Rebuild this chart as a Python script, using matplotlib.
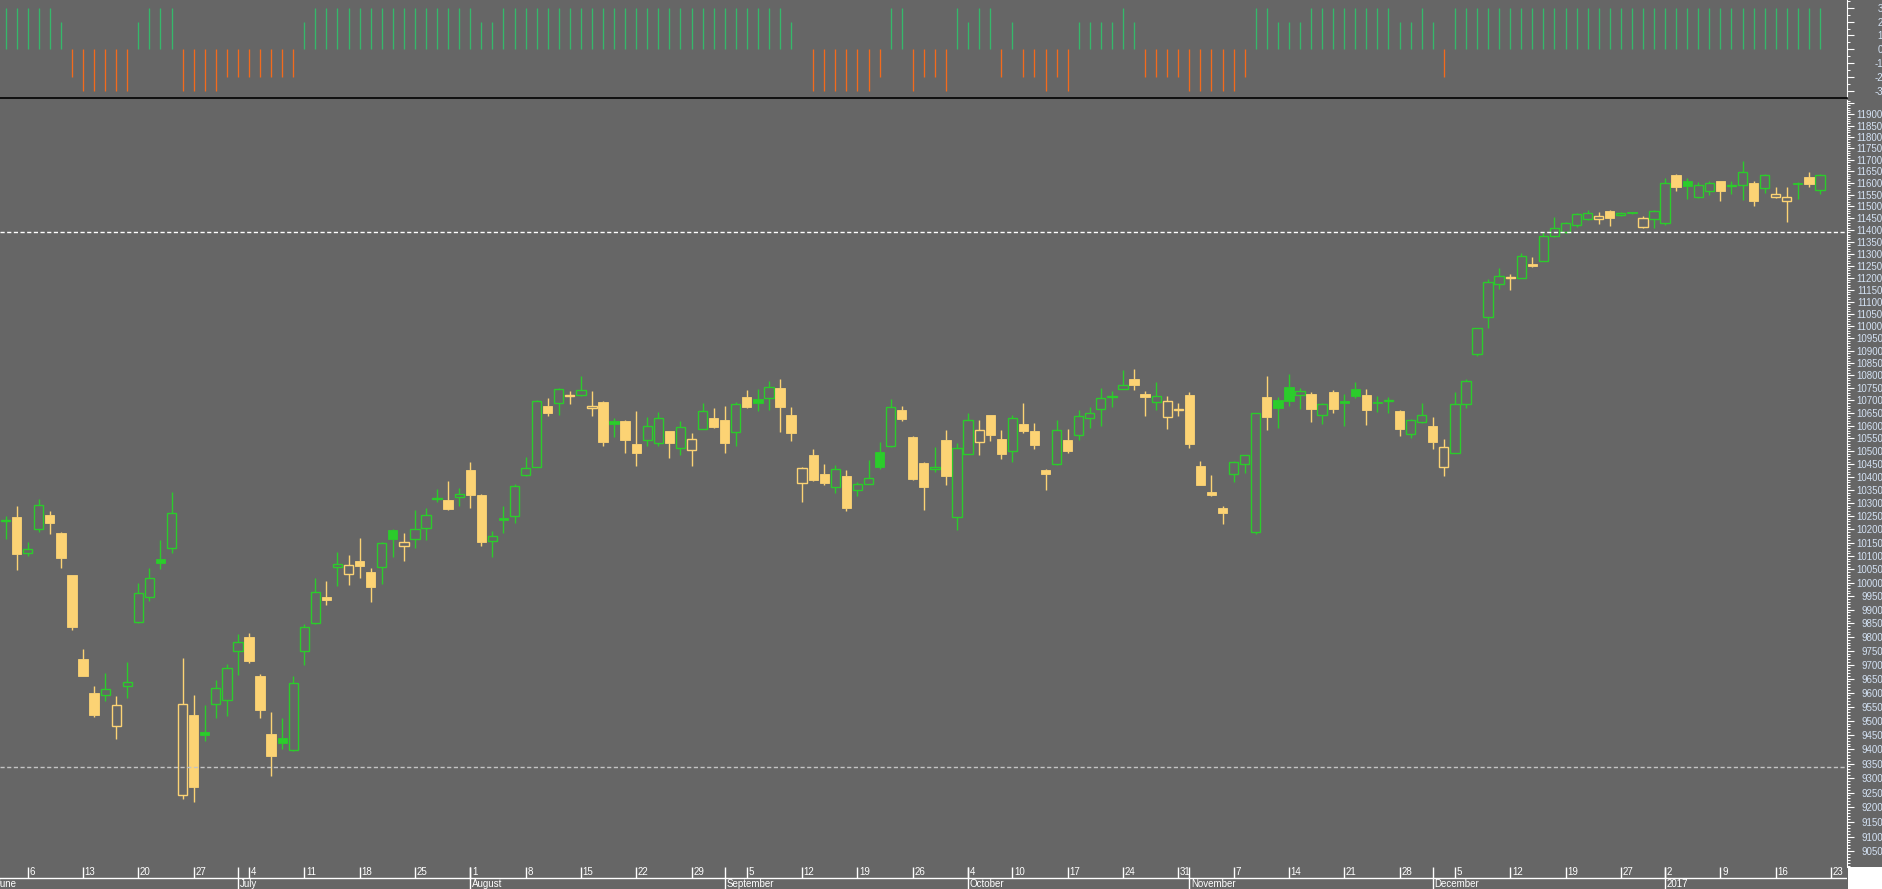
# DAX daily candles, June 2016 - January 2017, with a trend signal panel on top
import numpy as np
import pandas as pd
import matplotlib
matplotlib.use("Agg")
import matplotlib.pyplot as plt
from matplotlib.lines import Line2D
from matplotlib.patches import Rectangle
from matplotlib.ticker import FixedLocator, FixedFormatter, NullFormatter

plt.rcParams["font.family"] = ["Liberation Sans", "DejaVu Sans"]

# Trading calendar (exchange holidays removed). June 1 sits just left of the chart
holidays = ["2016-10-03", "2016-12-26"]
month_names = ["June", "July", "August", "September", "October", "November", "December", "2017"]

# OHLC, one value per trading day from 2016-06-02 to 2017-01-20
opens = [10230, 10245, 10109, 10201, 10253, 10187, 10027, 9720, 9598, 9593, 9483, 9625,
         9856, 9948, 10087, 10128, 9243, 9519, 9459, 9561, 9572, 9749, 9801, 9660,
         9453, 9439, 9397, 9748, 9852, 9945, 10059, 10031, 10081, 10041, 10059, 10199,
         10137, 10163, 10205, 10317, 10311, 10323, 10428, 10331, 10157, 10243, 10251, 10407,
         10439, 10679, 10690, 10716, 10721, 10670, 10694, 10618, 10618, 10529, 10545, 10532,
         10579, 10513, 10504, 10588, 10631, 10622, 10576, 10715, 10707, 10709, 10751, 10641,
         10378, 10486, 10411, 10360, 10403, 10349, 10375, 10496, 10519, 10663, 10557, 10455,
         10430, 10545, 10246, 10490, 10538, 10641, 10549, 10500, 10606, 10579, 10426, 10450,
         10545, 10562, 10631, 10667, 10714, 10746, 10787, 10727, 10694, 10635, 10661, 10723,
         10444, 10341, 10281, 10410, 10451, 10190, 10715, 10703, 10755, 10721, 10727, 10641,
         10735, 10698, 10746, 10721, 10694, 10699, 10659, 10566, 10616, 10599, 10439, 10495,
         10686, 10887, 11036, 11174, 11197, 11199, 11257, 11269, 11374, 11389, 11421, 11445,
         11445, 11480, 11462, 11474, 11414, 11445, 11430, 11636, 11608, 11539, 11566, 11608,
         11587, 11591, 11600, 11578, 11539, 11522, 11602, 11626, 11569]
highs = [10250, 10289, 10154, 10314, 10271, 10190, 10030, 9757, 9623, 9670, 9587, 9710,
         9997, 10053, 10158, 10343, 9724, 9593, 9557, 9645, 9701, 9812, 9816, 9667,
         9532, 9511, 9660, 9847, 10019, 10005, 10113, 10103, 10168, 10053, 10154, 10203,
         10187, 10272, 10282, 10353, 10384, 10357, 10458, 10333, 10194, 10289, 10375, 10477,
         10703, 10711, 10748, 10739, 10798, 10739, 10699, 10630, 10622, 10659, 10634, 10655,
         10581, 10618, 10571, 10691, 10671, 10679, 10694, 10743, 10747, 10779, 10785, 10674,
         10437, 10510, 10451, 10447, 10428, 10382, 10466, 10536, 10707, 10679, 10561, 10457,
         10515, 10582, 10532, 10652, 10622, 10643, 10582, 10641, 10691, 10610, 10432, 10622,
         10586, 10663, 10675, 10750, 10739, 10822, 10826, 10739, 10775, 10719, 10691, 10735,
         10463, 10408, 10287, 10463, 10486, 10651, 10799, 10714, 10807, 10751, 10735, 10691,
         10740, 10727, 10775, 10746, 10719, 10715, 10663, 10626, 10690, 10634, 10548, 10735,
         10786, 10993, 11195, 11238, 11215, 11304, 11284, 11393, 11456, 11432, 11470, 11484,
         11474, 11484, 11478, 11476, 11458, 11484, 11623, 11640, 11623, 11604, 11608, 11610,
         11608, 11695, 11608, 11639, 11584, 11584, 11604, 11649, 11641]
lows = [10162, 10046, 10100, 10190, 10183, 10053, 9826, 9660, 9513, 9570, 9437, 9580,
        9850, 9932, 10052, 10111, 9228, 9217, 9428, 9509, 9516, 9664, 9707, 9508,
        9306, 9402, 9395, 9697, 9849, 9919, 9988, 9990, 10017, 9929, 9995, 10097,
        10081, 10131, 10159, 10305, 10273, 10290, 10280, 10136, 10097, 10188, 10224, 10405,
        10437, 10637, 10641, 10688, 10716, 10637, 10522, 10554, 10495, 10444, 10519, 10519,
        10474, 10487, 10444, 10586, 10592, 10495, 10519, 10671, 10659, 10664, 10575, 10541,
        10303, 10386, 10369, 10339, 10269, 10328, 10373, 10431, 10517, 10618, 10388, 10272,
        10418, 10371, 10196, 10488, 10485, 10541, 10470, 10459, 10572, 10507, 10351, 10448,
        10495, 10546, 10590, 10600, 10676, 10744, 10740, 10637, 10661, 10587, 10637, 10511,
        10368, 10328, 10219, 10382, 10417, 10181, 10583, 10590, 10680, 10667, 10615, 10606,
        10652, 10600, 10711, 10602, 10656, 10652, 10560, 10550, 10610, 10508, 10404, 10493,
        10672, 10877, 10992, 11151, 11147, 11197, 11243, 11267, 11368, 11387, 11413, 11443,
        11427, 11416, 11458, 11466, 11409, 11410, 11421, 11564, 11532, 11537, 11550, 11525,
        11552, 11528, 11500, 11558, 11537, 11432, 11532, 11584, 11552]
closes = [10236, 10108, 10124, 10292, 10223, 10091, 9838, 9661, 9520, 9611, 9554, 9637,
          9963, 10018, 10073, 10263, 9561, 9268, 9450, 9615, 9687, 9782, 9714, 9538,
          9378, 9423, 9633, 9838, 9967, 9936, 10070, 10066, 10063, 9984, 10149, 10162,
          10153, 10201, 10255, 10321, 10276, 10336, 10329, 10151, 10175, 10236, 10367, 10435,
          10696, 10652, 10746, 10720, 10741, 10678, 10538, 10607, 10546, 10495, 10598, 10629,
          10531, 10594, 10549, 10658, 10596, 10533, 10686, 10673, 10690, 10754, 10676, 10570,
          10435, 10389, 10378, 10431, 10280, 10373, 10395, 10439, 10676, 10627, 10393, 10362,
          10440, 10404, 10512, 10621, 10585, 10565, 10490, 10629, 10579, 10523, 10413, 10584,
          10502, 10637, 10650, 10710, 10719, 10762, 10760, 10714, 10718, 10698, 10665, 10527,
          10370, 10330, 10262, 10460, 10484, 10649, 10635, 10669, 10696, 10738, 10667, 10686,
          10667, 10690, 10716, 10663, 10690, 10703, 10587, 10621, 10641, 10536, 10516, 10686,
          10778, 10991, 11182, 11207, 11201, 11292, 11247, 11374, 11410, 11430, 11466, 11470,
          11458, 11452, 11471, 11472, 11452, 11482, 11600, 11585, 11588, 11591, 11600, 11567,
          11591, 11647, 11525, 11634, 11555, 11541, 11598, 11595, 11634]

# Trend signal for the upper panel (-3 .. 3)
signal = [3, 3, 3, 3, 3, 2, -2, -3, -3, -3, -3, -3,
          2, 3, 3, 3, -3, -3, -3, -3, -2, -2, -2, -2, -2, -2, -2, 2,
          3, 3, 3, 3, 3, 3, 3, 3, 3, 3, 3, 3, 3, 3, 3,
          2, 2,
          3, 3, 3, 3, 3, 3, 3, 3, 3, 3, 3, 3, 3, 3, 3, 3, 3, 3, 3, 3, 3, 3, 3, 3, 3, 3,
          2, 0,
          -3, -3, -3, -3, -3, -3, -2,
          3, 3, -3, -2, -2, -3, 3, 2, 3, 3, -2, 2,
          -2, -2, -3, -2, -3, 2, 2, 2, 2, 3, 2,
          -2, -2, -2, -2, -3, -3, -3, -3, -3, -2,
          3, 3, 2, 2, 2, 3, 3, 3, 3, 3, 3, 3, 3, 2, 2, 3, 2, -2,
          3, 3, 3, 3, 3, 3, 3, 3, 3, 3, 3, 3, 3, 3, 3, 3, 3, 3, 3, 3, 3, 3, 3, 3, 3, 3,
          3, 3, 3, 3, 3, 3, 3, 3]

# Horizontal reference levels
level_high = 11389
level_low = 9338

# Colours
BG = "#666666"
UP = "#2bcc2b"
DOWN = "#fcd374"
SIG_UP = "#35b86b"
SIG_DOWN = "#f26b1d"
LABEL = "#d4e2f4"

opens = np.array(opens, float)
highs = np.array(highs, float)
lows = np.array(lows, float)
closes = np.array(closes, float)
signal = np.array(signal, float)
x = np.arange(len(closes))

# Calendar: June 1 is position -1, the candles follow, Jan 23 is an empty slot
dates = pd.bdate_range("2016-06-01", "2017-01-23")
dates = dates[~dates.isin(pd.to_datetime(holidays))]
date_pos = np.arange(len(dates)) - 1

# Figure layout in pixels
W, H = 1883, 889
fig = plt.figure(figsize=(W / 100, H / 100), dpi=100, facecolor=BG)


def box(x0, y0, x1, y1):
    return [x0 / W, 1 - y1 / H, (x1 - x0) / W, (y1 - y0) / H]


AX_R = 1847.5
ax_top = fig.add_axes(box(0, 0, AX_R, 97.5))
ax_main = fig.add_axes(box(0, 99.5, AX_R, 866.5))
ax_date = fig.add_axes(box(0, 866.5, AX_R, 889))

xlim = (-0.506, 166.49)
for ax in (ax_top, ax_main, ax_date):
    ax.set_facecolor(BG)
    ax.set_xlim(*xlim)
    ax.set_xticks([])
    for s in ax.spines.values():
        s.set_visible(False)

# ---- Top signal panel
pos = signal > 0
neg = signal < 0
ax_top.vlines(x[pos], 0, signal[pos], color=SIG_UP, lw=0.95)
ax_top.vlines(x[neg], 0, signal[neg], color=SIG_DOWN, lw=0.95)
ax_top.set_ylim(-3.49, 3.57)
ax_top.yaxis.tick_right()
ax_top.spines["right"].set_visible(True)
ax_top.spines["right"].set_color("white")
top_ticks = [3, 2, 1, 0, -1, -2, -3]
ax_top.yaxis.set_major_locator(FixedLocator(top_ticks))
ax_top.yaxis.set_major_formatter(FixedFormatter([str(t) for t in top_ticks]))
ax_top.yaxis.set_minor_locator(FixedLocator(np.arange(-3.5, 3.6, 0.5)))
ax_top.yaxis.set_minor_formatter(NullFormatter())

# ---- Main candle panel (log price scale)
ax_main.set_yscale("log")
ax_main.set_ylim(8999.4, 11965.6)
prev = np.r_[closes[0], closes[:-1]]
color = np.where(closes >= prev, UP, DOWN)
hollow = closes > opens
lo_body = np.minimum(opens, closes)
hi_body = np.maximum(opens, closes)
height = np.maximum(hi_body - lo_body, 1.0)

# wicks above and below the body
ax_main.vlines(x, hi_body, highs, color=color, lw=1.0)
ax_main.vlines(x, lows, lo_body, color=color, lw=1.0)
# bodies
ax_main.bar(x[hollow], height[hollow], bottom=lo_body[hollow], width=0.84,
            facecolor="none", edgecolor=color[hollow], linewidth=1.0)
ax_main.bar(x[~hollow], height[~hollow], bottom=lo_body[~hollow], width=0.84,
            facecolor=color[~hollow], edgecolor=color[~hollow], linewidth=0.6)

ax_main.axhline(level_high, color="white", lw=1.0, dashes=(3, 1.8))
ax_main.axhline(level_low, color="#c4c4c4", lw=1.0, dashes=(3, 1.8))

ax_main.yaxis.tick_right()
ax_main.spines["right"].set_visible(True)
ax_main.spines["right"].set_color("white")
price_ticks = list(range(9050, 11951, 50))
price_labels = [str(p) if p <= 11900 else "" for p in price_ticks]
ax_main.yaxis.set_major_locator(FixedLocator(price_ticks))
ax_main.yaxis.set_major_formatter(FixedFormatter(price_labels))
ax_main.yaxis.set_minor_locator(FixedLocator(list(range(9000, 11961, 10))))
ax_main.yaxis.set_minor_formatter(NullFormatter())

for ax in (ax_top, ax_main):
    ax.tick_params(axis="y", which="major", direction="out", length=5, width=0.8,
                   color="white", labelcolor=LABEL, labelsize=7, pad=20.5)
    ax.tick_params(axis="y", which="minor", direction="out", length=2.5, width=0.7,
                   color="white")
    for tl in ax.get_yticklabels():
        tl.set_horizontalalignment("right")

# ---- Date band: week starts on top, months below
ax_date.set_ylim(0, 1)
ax_date.set_yticks([])
ax_date.axhline(0.489, color="white", lw=1.0)

week = dates.isocalendar().week.values
week_start = np.r_[False, week[1:] != week[:-1]]
month = dates.month.values
month_start = np.r_[True, month[1:] != month[:-1]]

for p, d in zip(date_pos[week_start], dates[week_start]):
    ax_date.vlines(p, 0.489, 1, color="white", lw=1.0)
    ax_date.text(p + 0.15, 0.74, str(d.day), color="white", fontsize=7,
                 ha="left", va="center")
for p, name in zip(date_pos[month_start], month_names):
    ax_date.vlines(p, 0, 1, color="white", lw=1.0)
    ax_date.text(p + 0.15, 0.22, name, color="white", fontsize=7,
                 ha="left", va="center")

# black separator between the panels and the white corner under the price axis
fig.add_artist(Line2D([0, AX_R / W], [1 - 98.4 / H] * 2, color="black", lw=1.2))
fig.add_artist(Rectangle((1848.5 / W, 0), 1 - 1848.5 / W, 22.5 / H,
                         transform=fig.transFigure, facecolor="white", edgecolor="none"))

fig.savefig("out.png", dpi=100, facecolor=BG)
